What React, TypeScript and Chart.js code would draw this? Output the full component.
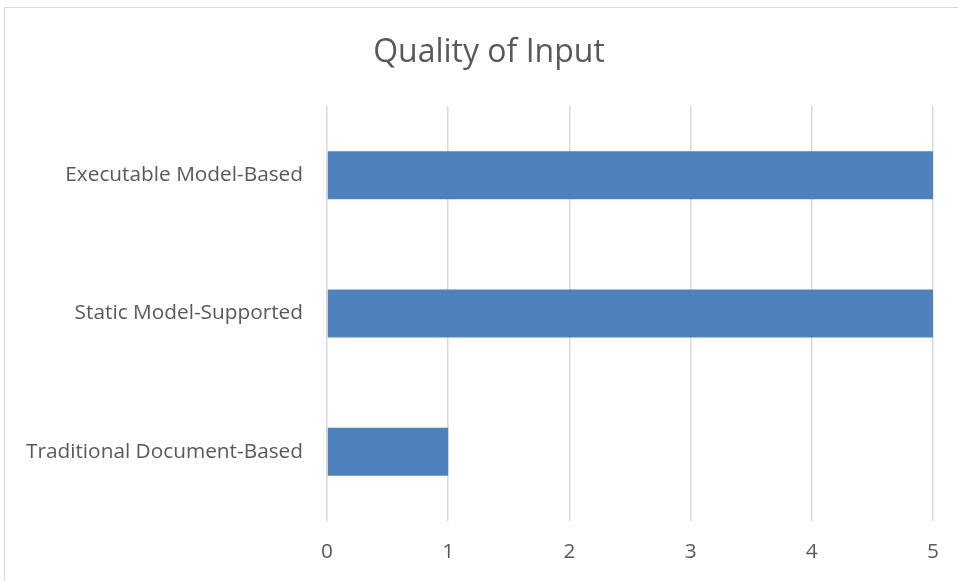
import React, { useEffect, useRef } from "react";
import { Chart, registerables } from "chart.js";

Chart.register(...registerables);

const categories = ["Executable Model-Based", "Static Model-Supported", "Traditional Document-Based"];
const values = [5, 5, 1];
const xTicks = [0, 1, 2, 3, 4, 5];
const title = "Quality of Input";

const titlePlugin = {
  id: "customTitle",
  afterDraw(chart: any) {
    const ctx = chart.ctx;
    ctx.save();
    ctx.font = "32px 'Open Sans'";
    ctx.fillStyle = "#595959";
    ctx.textAlign = "center";
    ctx.textBaseline = "alphabetic";
    ctx.fillText(title, 489, 62);
    ctx.restore();
  },
};

export default function App() {
  const ref = useRef<HTMLCanvasElement | null>(null);

  useEffect(() => {
    document.body.style.margin = "0";
    const canvas = ref.current;
    if (!canvas) return;
    const chart = new Chart(canvas, {
      type: "bar",
      data: {
        labels: categories,
        datasets: [
          {
            data: values,
            backgroundColor: "#4F81BD",
            borderWidth: 0,
            categoryPercentage: 1,
            barPercentage: 0.347,
          },
        ],
      },
      options: {
        indexAxis: "y",
        animation: false,
        responsive: false,
        maintainAspectRatio: false,
        layout: { padding: { left: 0, right: 25, top: 106, bottom: 18 } },
        plugins: {
          legend: { display: false },
          tooltip: { enabled: false },
          title: { display: false },
        },
        scales: {
          x: {
            min: 0,
            max: 5,
            afterBuildTicks: (axis: any) => {
              axis.ticks = xTicks.map((v) => ({ value: v }));
            },
            afterFit: (axis: any) => {
              axis.height = 42;
            },
            grid: { color: "#D9D9D9", lineWidth: 1.5, drawTicks: false },
            border: { display: false },
            ticks: {
              color: "#595959",
              font: { family: "Open Sans", size: 20.8 },
              padding: 19,
            },
          },
          y: {
            afterFit: (axis: any) => {
              axis.width = 327;
            },
            grid: { display: false, drawTicks: false },
            border: { display: false },
            ticks: {
              color: "#595959",
              font: { family: "Open Sans", size: 20.8 },
              padding: 24,
            },
          },
        },
      },
      plugins: [titlePlugin],
    });
    return () => chart.destroy();
  }, []);

  return (
    <div style={{ position: "relative", width: 958, height: 581, overflow: "hidden", background: "#fff" }}>
      <div
        style={{
          position: "absolute",
          left: 4,
          top: 7,
          width: 1000,
          height: 700,
          border: "1.5px solid #D9D9D9",
          boxSizing: "border-box",
        }}
      />
      <canvas ref={ref} width={958} height={581} style={{ position: "absolute", left: 0, top: 0 }} />
    </div>
  );
}
